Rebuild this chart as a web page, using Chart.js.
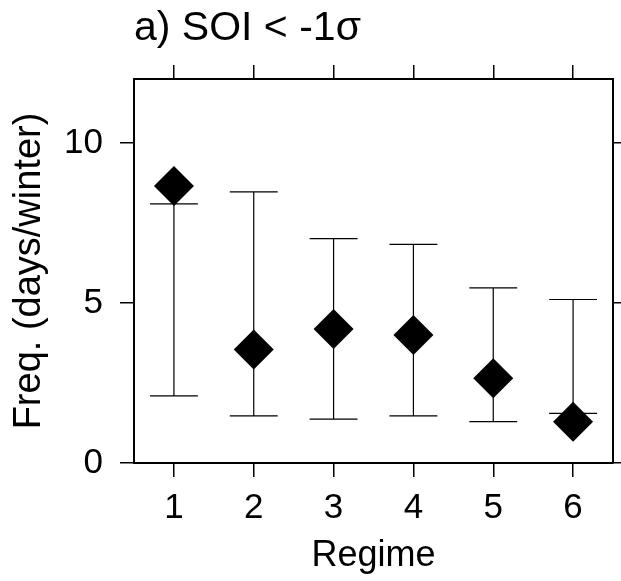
<!DOCTYPE html>
<html>
<head>
<meta charset="utf-8">
<script src="https://cdn.jsdelivr.net/npm/chart.js@4.4.1/dist/chart.umd.min.js"></script>
<style>
  html, body { margin: 0; padding: 0; background: #fff; }
  #wrap { width: 621px; height: 581px; }
</style>
</head>
<body>
<div id="wrap"><canvas id="regimeChart" width="621" height="581"></canvas></div>
<script>
// Regime frequency during SOI < -1 sigma winters

const regimes = [1, 2, 3, 4, 5, 6];
const freqValues = [8.66, 3.55, 4.19, 4.00, 2.65, 1.29];
const rangeHigh = [8.10, 8.47, 7.01, 6.83, 5.47, 5.11];
const rangeLow = [2.10, 1.47, 1.37, 1.47, 1.29, 1.55];
const xTickValues = [1, 2, 3, 4, 5, 6];
const yTickValues = [0, 5, 10];

const FONT = "'Liberation Sans', Arial, sans-serif";
const CAP_HALF = 0.3; // cap half-width, in regime units

// Whiskers and caps, drawn behind the diamonds
const rangeBars = {
    id: 'rangeBars',
    beforeDatasetsDraw(chart) {
        const ctx = chart.ctx;
        const xs = chart.scales.x;
        const ys = chart.scales.y;
        ctx.save();
        ctx.strokeStyle = '#000';
        ctx.lineWidth = 1.2;
        regimes.forEach((r, i) => {
            const px = xs.getPixelForValue(r);
            const left = xs.getPixelForValue(r - CAP_HALF);
            const right = xs.getPixelForValue(r + CAP_HALF);
            const top = ys.getPixelForValue(rangeHigh[i]);
            const bot = ys.getPixelForValue(rangeLow[i]);
            ctx.beginPath();
            ctx.moveTo(px, top);
            ctx.lineTo(px, bot);
            ctx.moveTo(left, top);
            ctx.lineTo(right, top);
            ctx.moveTo(left, bot);
            ctx.lineTo(right, bot);
            ctx.stroke();
        });
        ctx.restore();
    }
};

// One side of the box frame, with outward tick marks
function frameAxis(position, size, tickValues, showLabels, range) {
    const horizontal = position === 'top' || position === 'bottom';
    return {
        type: 'linear',
        position: position,
        min: range[0],
        max: range[1],
        afterBuildTicks: scale => {
            scale.ticks = tickValues.map(v => ({ value: v }));
        },
        afterFit: scale => {
            if (horizontal) scale.height = size;
            else scale.width = size;
        },
        grid: {
            drawOnChartArea: false,
            drawTicks: true,
            tickLength: 14,
            color: '#000',
            lineWidth: 1.5
        },
        border: {
            display: true,
            color: '#000',
            width: 2
        },
        ticks: {
            display: showLabels,
            color: '#000',
            padding: horizontal ? 10 : 17,
            minRotation: 0,
            maxRotation: 0,
            autoSkip: false,
            font: { family: FONT, size: 35 }
        }
    };
}

const xRange = [0.5, 6.5];
const yRange = [0, 12];

const xAxis = frameAxis('bottom', 118, xTickValues, true, xRange);
xAxis.title = {
    display: true,
    text: 'Regime',
    color: '#000',
    font: { family: FONT, size: 36 },
    padding: { top: 0, bottom: 3 }
};

const yAxis = frameAxis('left', 134, yTickValues, true, yRange);
yAxis.title = {
    display: true,
    text: 'Freq. (days/winter)',
    color: '#000',
    font: { family: FONT, size: 38 },
    padding: { top: 7, bottom: 0 }
};

const xTopAxis = frameAxis('top', 79, xTickValues, false, xRange);
xTopAxis.title = {
    display: true,
    text: 'a) SOI < -1σ',
    align: 'start',
    color: '#000',
    font: { family: FONT, size: 41 },
    padding: { top: 4, bottom: 0 }
};

const yRightAxis = frameAxis('right', 8, yTickValues, false, yRange);

const ctx = document.getElementById('regimeChart').getContext('2d');
new Chart(ctx, {
    type: 'scatter',
    data: {
        datasets: [{
            label: 'Frequency',
            data: regimes.map((r, i) => ({ x: r, y: freqValues[i] })),
            pointStyle: 'rectRot',
            pointRadius: 20,
            pointHoverRadius: 20,
            backgroundColor: '#000',
            borderColor: '#000',
            borderWidth: 0
        }]
    },
    options: {
        responsive: false,
        animation: false,
        layout: { padding: 0, autoPadding: false },
        plugins: {
            legend: { display: false },
            tooltip: { enabled: false }
        },
        scales: {
            x: xAxis,
            y: yAxis,
            xTop: xTopAxis,
            yRight: yRightAxis
        }
    },
    plugins: [rangeBars]
});
</script>
</body>
</html>
